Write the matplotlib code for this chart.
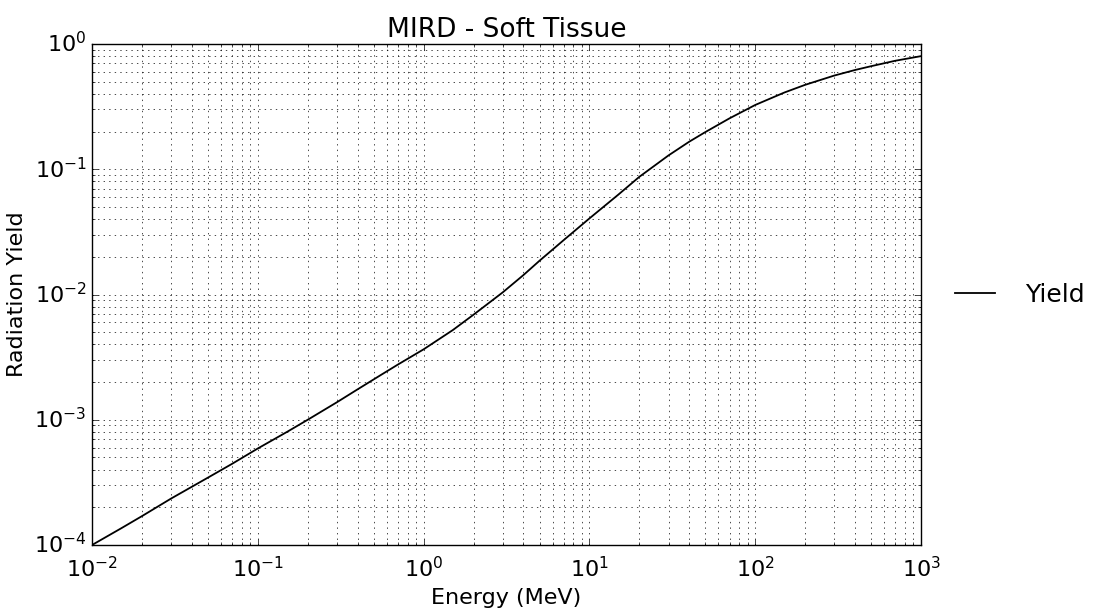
import matplotlib
matplotlib.use("Agg")
import matplotlib.pyplot as plt

# values (energy in MeV, radiation yield)
energy = [0.01, 0.015, 0.02, 0.03, 0.05, 0.07, 0.1, 0.15, 0.2, 0.3, 0.4,
          0.55, 0.7, 1.0, 1.5, 2.0, 3.0, 4.0, 5.0, 7.0, 10.0, 15.0, 20.0,
          30.0, 40.0, 50.0, 70.0, 100.0, 150.0, 200.0, 300.0, 400.0, 500.0,
          700.0, 1000.0]
yield_vals = [1.0e-4, 1.36e-4, 1.7e-4, 2.35e-4, 3.45e-4, 4.45e-4, 5.9e-4,
              8.0e-4, 1.0e-3, 1.38e-3, 1.75e-3,
              2.27e-3, 2.76e-3, 3.65e-3, 5.2e-3, 6.9e-3, 1.04e-2, 1.43e-2,
              1.86e-2, 2.72e-2, 4.05e-2, 6.3e-2, 8.7e-2,
              1.29e-1, 1.66e-1, 1.98e-1, 2.55e-1, 3.26e-1, 4.1e-1, 4.72e-1,
              5.6e-1, 6.2e-1, 6.65e-1,
              7.35e-1, 8.0e-1]

plt.style.use("classic")
plt.rcParams["axes.unicode_minus"] = False

fig = plt.figure(figsize=(10.94, 6.11), dpi=100, facecolor="white")
ax = fig.add_axes([0.0841, 0.108, 0.7578, 0.820])

ax.loglog(energy, yield_vals, color="black", linewidth=1.3, label="Yield")
ax.set_xlim(1e-2, 1e3)
ax.set_ylim(1e-4, 1e0)

ax.grid(True, which="both", linestyle=":", color="black", linewidth=0.5)

ax.set_title("MIRD - Soft Tissue", fontsize=19)
ax.set_xlabel("Energy (MeV)", fontsize=16)
ax.set_ylabel("Radiation Yield", fontsize=16)
ax.tick_params(axis="both", which="major", labelsize=16)
ax.tick_params(axis="x", which="major", pad=8)

ax.legend(loc="center left", bbox_to_anchor=(1.005, 0.5), frameon=False,
          fontsize=18, handlelength=2.2, handletextpad=0.9)

fig.savefig("out.png", dpi=100, facecolor="white")
